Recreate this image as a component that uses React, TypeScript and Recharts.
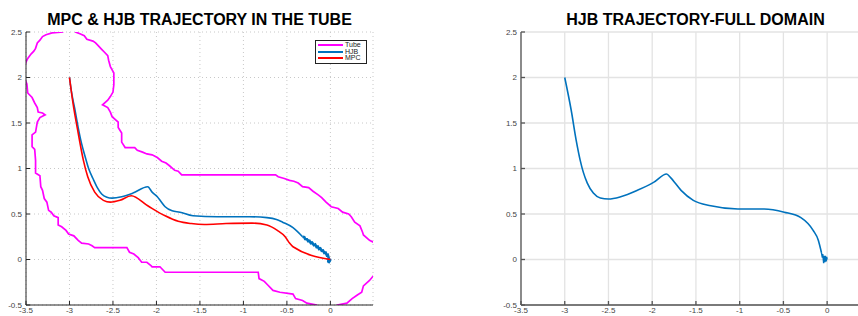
import React from 'react';
import { LineChart, Line, XAxis, YAxis, CartesianGrid, Legend } from 'recharts';

const xTicks = [-3.5, -3, -2.5, -2, -1.5, -1, -0.5, 0];
const yTicks = [-0.5, 0, 0.5, 1, 1.5, 2, 2.5];

const legendItems = [
  { name: 'Tube', color: '#ff00ff' },
  { name: 'HJB', color: '#0072bd' },
  { name: 'MPC', color: '#ff0000' },
];

// tube boundary (one open polyline around the tube)
const tube = [
  [-3.08, 2.54], [-3.08, 2.5], [-3.2, 2.49], [-3.27, 2.47], [-3.31, 2.45], [-3.34, 2.41], [-3.37, 2.38],
  [-3.39, 2.32], [-3.41, 2.29], [-3.44, 2.26], [-3.48, 2.21], [-3.5, 2.17], [-3.52, 2.1], [-3.52, 2.0],
  [-3.49, 1.93], [-3.48, 1.83], [-3.43, 1.78], [-3.4, 1.72], [-3.37, 1.67], [-3.36, 1.62], [-3.31, 1.61],
  [-3.28, 1.59], [-3.34, 1.56], [-3.37, 1.51], [-3.39, 1.4], [-3.43, 1.37], [-3.43, 1.24], [-3.4, 1.21],
  [-3.39, 1.09], [-3.39, 0.95], [-3.34, 0.92], [-3.33, 0.8], [-3.31, 0.76], [-3.29, 0.67], [-3.26, 0.63],
  [-3.24, 0.54], [-3.21, 0.52], [-3.18, 0.48], [-3.13, 0.46], [-3.13, 0.38], [-3.09, 0.36], [-3.04, 0.32],
  [-3.01, 0.28], [-2.95, 0.26], [-2.9, 0.21], [-2.86, 0.18], [-2.78, 0.17], [-2.74, 0.15], [-2.71, 0.13],
  [-2.34, 0.13], [-2.31, 0.08], [-2.26, 0.06], [-2.21, 0.02], [-2.17, -0.03], [-2.11, -0.03], [-2.06, -0.07],
  [-2.05, -0.08], [-1.96, -0.08], [-1.9, -0.14], [-0.83, -0.14], [-0.82, -0.21], [-0.76, -0.24],
  [-0.72, -0.28], [-0.66, -0.34], [-0.58, -0.36], [-0.43, -0.38], [-0.4, -0.43], [-0.32, -0.45],
  [-0.27, -0.48], [-0.16, -0.5], [-0.12, -0.56], [-0.04, -0.58], [0.05, -0.52], [0.08, -0.5], [0.19, -0.48],
  [0.25, -0.43], [0.31, -0.39], [0.36, -0.36], [0.38, -0.29], [0.45, -0.23], [0.52, -0.15],
  [0.52, 0.18], [0.45, 0.21], [0.38, 0.27], [0.37, 0.3], [0.34, 0.37], [0.28, 0.41], [0.24, 0.47],
  [0.21, 0.5], [0.14, 0.52], [0.09, 0.56], [0.01, 0.58], [-0.05, 0.63], [-0.1, 0.68], [-0.14, 0.71],
  [-0.2, 0.75], [-0.25, 0.79], [-0.32, 0.8], [-0.37, 0.84], [-0.42, 0.86], [-0.47, 0.87], [-0.53, 0.89],
  [-0.6, 0.91], [-0.63, 0.93], [-1.71, 0.93], [-1.75, 0.97], [-1.79, 0.98], [-1.85, 1.03], [-1.89, 1.06],
  [-1.94, 1.08], [-1.99, 1.12], [-2.05, 1.15], [-2.11, 1.16], [-2.16, 1.18], [-2.22, 1.2], [-2.25, 1.23],
  [-2.36, 1.23], [-2.4, 1.29], [-2.4, 1.39], [-2.44, 1.45], [-2.44, 1.51], [-2.51, 1.57], [-2.53, 1.62],
  [-2.56, 1.67], [-2.62, 1.7], [-2.56, 1.75], [-2.53, 1.79], [-2.5, 1.84], [-2.49, 1.92], [-2.49, 2.05],
  [-2.53, 2.12], [-2.55, 2.19], [-2.56, 2.24], [-2.6, 2.28], [-2.63, 2.31], [-2.67, 2.35], [-2.7, 2.38],
  [-2.73, 2.4], [-2.8, 2.42], [-2.83, 2.46], [-2.88, 2.48], [-2.93, 2.5], [-2.95, 2.54],
];

// HJB in the tube: smooth part, then the jittery tail near the origin
const hjbTube = [
  [-3.0, 2.0], [-2.975, 1.83], [-2.94, 1.66], [-2.9, 1.45], [-2.86, 1.27], [-2.82, 1.13], [-2.78, 1.0],
  [-2.73, 0.89], [-2.68, 0.79], [-2.63, 0.72], [-2.57, 0.685], [-2.51, 0.675], [-2.4, 0.69], [-2.27, 0.73],
  [-2.1, 0.8], [-2.05, 0.74], [-1.99, 0.69], [-1.95, 0.64], [-1.9, 0.58], [-1.82, 0.535], [-1.73, 0.52],
  [-1.58, 0.48], [-1.3, 0.47], [-0.93, 0.47], [-0.73, 0.46], [-0.62, 0.44], [-0.55, 0.41], [-0.43, 0.35],
  [-0.32, 0.25],
];
const hjbTubeTail = [
  [-0.32, 0.25], [-0.3, 0.245], [-0.29, 0.225], [-0.27, 0.222], [-0.255, 0.2], [-0.24, 0.205],
  [-0.225, 0.18], [-0.21, 0.185], [-0.19, 0.158], [-0.175, 0.165], [-0.16, 0.138], [-0.145, 0.142],
  [-0.13, 0.115], [-0.115, 0.122], [-0.1, 0.095], [-0.085, 0.098], [-0.07, 0.072], [-0.055, 0.076],
  [-0.04, 0.045], [-0.03, 0.05], [-0.02, 0.02], [-0.025, -0.03], [-0.01, 0.01], [-0.02, -0.04],
  [0.0, 0.01], [-0.01, -0.02], [0.0, 0.0],
];

const mpcTube = [
  [-3.0, 2.0], [-2.96, 1.72], [-2.9, 1.39], [-2.84, 1.09], [-2.79, 0.91], [-2.71, 0.74], [-2.61, 0.65],
  [-2.53, 0.63], [-2.42, 0.65], [-2.29, 0.7], [-2.1, 0.59], [-1.9, 0.48], [-1.75, 0.42], [-1.6, 0.395],
  [-1.45, 0.385], [-1.2, 0.395], [-0.9, 0.4], [-0.73, 0.38], [-0.61, 0.32], [-0.52, 0.25], [-0.47, 0.18],
  [-0.43, 0.14], [0.0, 0.0],
];

const hjbFull = [
  [-3.0, 2.0], [-2.926, 1.64], [-2.869, 1.31], [-2.823, 1.09], [-2.788, 0.96], [-2.742, 0.84],
  [-2.673, 0.73], [-2.593, 0.676], [-2.5, 0.665], [-2.36, 0.69], [-2.17, 0.76], [-1.98, 0.85],
  [-1.835, 0.94], [-1.79, 0.9], [-1.67, 0.76], [-1.53, 0.65], [-1.33, 0.59], [-1.02, 0.555],
  [-0.72, 0.555], [-0.49, 0.52], [-0.3, 0.46], [-0.16, 0.32], [-0.1, 0.21], [-0.066, 0.08],
];
const hjbFullTail = [
  [-0.066, 0.08], [-0.055, 0.02], [-0.05, 0.06], [-0.04, -0.04], [-0.035, 0.04], [-0.025, -0.03],
  [-0.02, 0.04], [-0.01, -0.02], [-0.005, 0.03], [0.0, 0.0],
];

const toPts = (a: number[][]) => a.map(([x, y]) => ({ x, y }));

const FONT = '"Liberation Sans", Arial, Helvetica, sans-serif';
const tickStyle = { fontSize: 8, fill: '#444', fontFamily: FONT };

const renderLegend = () => (
  <div
    style={{
      width: 46,
      border: '1px solid #222',
      background: '#fff',
      padding: '1px 2px',
      fontSize: 7,
      lineHeight: '6.5px',
      fontFamily: FONT,
      color: '#222',
    }}
  >
    {legendItems.map((p) => (
      <div key={p.name} style={{ display: 'flex', alignItems: 'center', height: 6.5 }}>
        <span style={{ display: 'inline-block', width: 25, borderTop: `2px solid ${p.color}`, marginRight: 2 }} />
        {p.name}
      </div>
    ))}
  </div>
);

const titleStyle = (center: number): React.CSSProperties => ({
  position: 'absolute',
  left: center - 200,
  width: 400,
  top: 11.5,
  textAlign: 'center',
  fontFamily: FONT,
  fontWeight: 'bold',
  fontSize: 16,
  lineHeight: '16px',
  color: '#000',
});

const line = (key: string, pts: number[][], color: string, width: number, type: any) => (
  <Line
    key={key}
    name={key}
    data={toPts(pts)}
    dataKey="y"
    type={type}
    stroke={color}
    strokeWidth={width}
    dot={false}
    activeDot={false}
    legendType="none"
    isAnimationActive={false}
  />
);

export default function App() {
  return (
    <div
      style={{
        position: 'absolute',
        left: 0,
        top: 0,
        width: 858,
        height: 316,
        overflow: 'hidden',
        background: '#fff',
      }}
    >
      <div style={titleStyle(199.5)}>MPC &amp; HJB TRAJECTORY IN THE TUBE</div>
      <div style={titleStyle(695.5)}>HJB TRAJECTORY-FULL DOMAIN</div>

      <div style={{ position: 'absolute', left: 0, top: 0 }}>
        <LineChart width={380} height={316} margin={{ top: 32, right: 7, bottom: 0, left: 6 }}>
          <CartesianGrid stroke="#c8c8c8" strokeDasharray="1 3" />
          <XAxis
            type="number"
            dataKey="x"
            domain={[-3.5, 0.49]}
            ticks={xTicks}
            interval={0}
            allowDataOverflow
            height={11}
            tickSize={-4}
            tickMargin={6}
            stroke="#262626"
            tick={tickStyle}
          />
          <XAxis
            xAxisId="top"
            orientation="top"
            type="number"
            dataKey="x"
            domain={[-3.5, 0.49]}
            ticks={xTicks}
            interval={0}
            allowDataOverflow
            height={0}
            tickSize={-4}
            stroke="#262626"
            tick={false}
          />
          <YAxis
            type="number"
            domain={[-0.5, 2.5]}
            ticks={yTicks}
            interval={0}
            allowDataOverflow
            width={20}
            tickSize={-4}
            tickMargin={8}
            stroke="#262626"
            tick={tickStyle}
          />
          <YAxis
            yAxisId="right"
            orientation="right"
            type="number"
            domain={[-0.5, 2.5]}
            ticks={yTicks}
            interval={0}
            allowDataOverflow
            width={0}
            tickSize={-4}
            stroke="#262626"
            tick={false}
          />
          <Legend
            layout="vertical"
            align="center"
            verticalAlign="middle"
            wrapperStyle={{ left: 315, top: 40, width: 'auto' }}
            content={renderLegend}
          />
          {line('Tube', tube, '#ff00ff', 1.7, 'linear')}
          {line('HJB', hjbTube, '#0072bd', 1.6, 'monotoneX')}
          {line('HJB tail', hjbTubeTail, '#0072bd', 2.6, 'linear')}
          {line('MPC', mpcTube, '#ff0000', 1.6, 'monotoneX')}
        </LineChart>
      </div>

      <div style={{ position: 'absolute', left: 490, top: 0 }}>
        <LineChart width={380} height={316} margin={{ top: 32, right: 0, bottom: 0, left: 11 }}>
          <CartesianGrid stroke="#e3e3e3" strokeWidth={1.3} />
          <XAxis
            type="number"
            dataKey="x"
            domain={[-3.5, 0.49]}
            ticks={xTicks}
            interval={0}
            allowDataOverflow
            height={11}
            tickSize={-4}
            tickMargin={6}
            stroke="#555"
            strokeWidth={1.3}
            tick={tickStyle}
          />
          <XAxis
            xAxisId="top"
            orientation="top"
            type="number"
            dataKey="x"
            domain={[-3.5, 0.49]}
            ticks={xTicks}
            interval={0}
            allowDataOverflow
            height={0}
            tickSize={-4}
            stroke="#555"
            strokeWidth={1.3}
            tick={false}
          />
          <YAxis
            type="number"
            domain={[-0.5, 2.5]}
            ticks={yTicks}
            interval={0}
            allowDataOverflow
            width={20}
            tickSize={-4}
            tickMargin={8}
            stroke="#555"
            strokeWidth={1.3}
            tick={tickStyle}
          />
          {line('HJB', hjbFull, '#0072bd', 1.6, 'monotoneX')}
          {line('HJB tail', hjbFullTail, '#0072bd', 1.4, 'linear')}
        </LineChart>
      </div>
    </div>
  );
}
